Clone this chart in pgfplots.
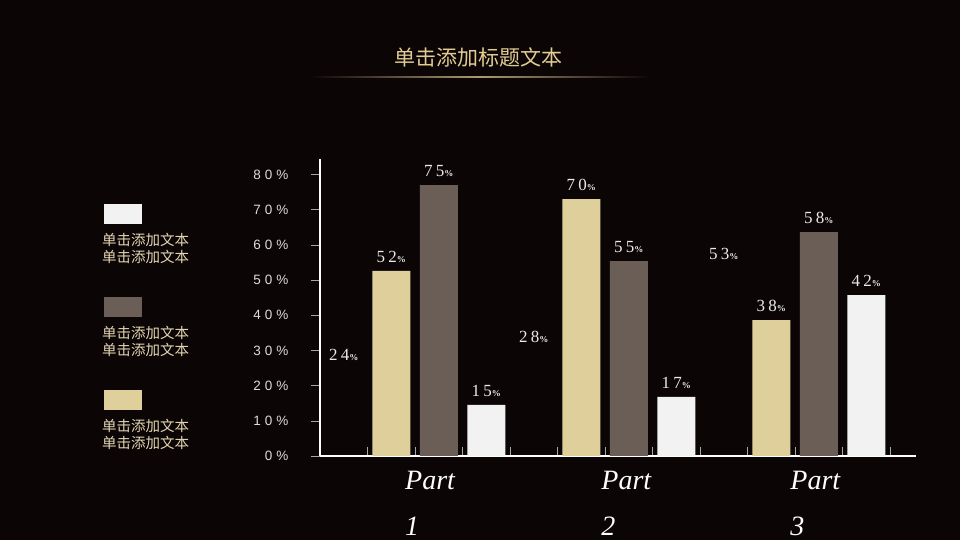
\documentclass[border=0pt]{standalone}
\usepackage{fontspec}
\usepackage{pgfplots}
\pgfplotsset{compat=1.18}
\setmainfont{Liberation Serif}
\newfontfamily\cjk{Noto Sans CJK SC}
\newfontfamily\tickfont[LetterSpace=30]{Liberation Sans}
\newfontfamily\labfont[LetterSpace=20]{Liberation Serif}
\definecolor{bg}{RGB}{11,5,6}
\definecolor{beige}{RGB}{223,207,154}
\definecolor{brownbar}{RGB}{106,94,86}
\definecolor{whitebar}{RGB}{242,242,242}
\definecolor{gold}{RGB}{226,204,146}
\definecolor{legtext}{RGB}{228,214,178}
\definecolor{ticktext}{RGB}{220,220,220}
\pgfplotsset{sqleg/.style={legend image code/.code={\fill[##1,overlay] (2pt,25pt) rectangle (40pt,45pt);}}}
\begin{document}
\begin{tikzpicture}
\fill[bg] (0pt,0pt) rectangle (960pt,540pt);
\useasboundingbox (0pt,0pt) rectangle (960pt,540pt);
\node[text=gold, font=\cjk\fontsize{21}{21}\selectfont] at (478pt,483pt) {单击添加标题文本};
\shade[left color=bg, right color=bg, middle color=gold!75!bg] (310pt,462.2pt) rectangle (650pt,463.6pt);
\begin{axis}[
  at={(320pt,84pt)}, anchor=south west,
  scale only axis, width=596pt, height=297pt,
  xmin=0, xmax=12.547, ymin=0, ymax=84.4,
  axis x line*=bottom, axis y line*=left,
  axis line style={white, line width=1.6pt},
  ytick={0,10,...,80},
  yticklabel={\tickfont\fontsize{13.5}{13.5}\selectfont\pgfmathprintnumber[assume math mode=true]{\tick}\%},
  yticklabel style={text=ticktext, xshift=-19pt},
  xtick={1,...,12}, xticklabels={},
  tick align=outside, major tick length=9pt,
  tick style={color=gray!70, line width=0.6pt},
  x tick style={yshift=9pt},
  extra x ticks={1.79,5.92,9.9},
  extra x tick labels={Part\\[12pt]1,Part\\[12pt]2,Part\\[12pt]3},
  extra x tick style={major tick length=0pt,
    tick label style={anchor=north west, align=left, text=white,
      font=\itshape\fontsize{28}{34}\selectfont, inner sep=0pt, yshift=-15pt}},
  point meta=explicit symbolic,
  nodes near coords={\labfont\fontsize{17}{17}\selectfont\pgfplotspointmeta{\bfseries\fontsize{9}{9}\selectfont\%}},
  nodes near coords style={text=white!92!black, anchor=south, inner sep=0pt, yshift=8pt},
  legend style={at={(axis description cs:-0.366,0.751)}, anchor=north west,
    draw=none, fill=none, inner sep=0pt, column sep=0pt, row sep=62.5pt,
    nodes={align=left, inner sep=0pt, text=legtext, font=\cjk\fontsize{14.5}{17}\selectfont}},
  reverse legend,
  clip=false,
]
\addplot[ybar, bar width=38pt, draw=none, fill=none, forget plot]
  coordinates {(0.5,24.7) [24] (4.5,29.8) [28] (8.5,53.4) [53]};
\addplot[ybar, bar width=38pt, draw=none, fill=beige, sqleg]
  coordinates {(1.5,52.6) [52] (5.5,73.0) [70] (9.5,38.6) [38]};
\addlegendentry{单击添加文本\\单击添加文本}
\addplot[ybar, bar width=38pt, draw=none, fill=brownbar, sqleg]
  coordinates {(2.5,77.0) [75] (6.5,55.4) [55] (10.5,63.6) [58]};
\addlegendentry{单击添加文本\\单击添加文本}
\addplot[ybar, bar width=38pt, draw=none, fill=whitebar, sqleg]
  coordinates {(3.5,14.5) [15] (7.5,16.8) [17] (11.5,45.7) [42]};
\addlegendentry{单击添加文本\\单击添加文本}
\end{axis}
\end{tikzpicture}
\end{document}
